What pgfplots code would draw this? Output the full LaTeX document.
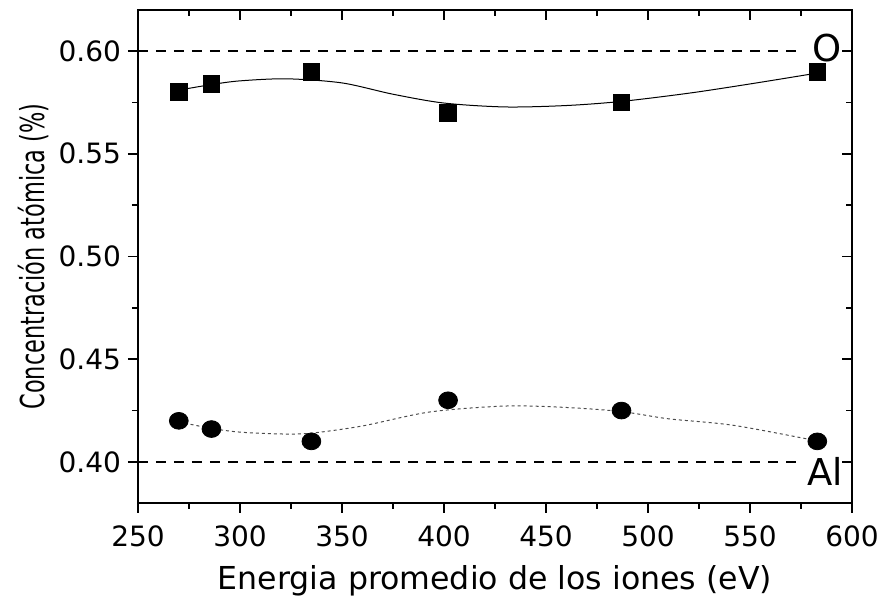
\documentclass[border=0pt]{standalone}
\usepackage{fontspec}
\setmainfont{DejaVu Sans}
\newfontfamily\ylabfont{DejaVu Sans}[FakeStretch=0.68]
\usepackage{pgfplots}
\pgfplotsset{compat=1.18}

\pgfplotsset{
  frame/.style={
    scale only axis, width=357pt, height=246.5pt,
    xmin=250, xmax=600, ymin=0.38, ymax=0.62,
    xtick={250,300,...,600}, ytick={0.40,0.45,0.50,0.55,0.60},
    minor x tick num=1, minor y tick num=1,
    axis line style={line width=1pt},
    tick style={line width=0.9pt, black},
    major tick length=5pt, minor tick length=3pt,
  },
}

\begin{document}
\begin{tikzpicture}
\useasboundingbox (-69pt,-48pt) rectangle (373pt,251.5pt);
\begin{axis}[frame,
  tick align=outside, xtick pos=bottom, ytick pos=left,
  /pgf/number format/assume math mode=true,
  ticklabel style={font=\fontsize{14}{16}\selectfont},
  yticklabel style={/pgf/number format/.cd, fixed, fixed zerofill, precision=2},
  xticklabel style={yshift=-3pt, /pgf/number format/.cd, fixed, precision=0},
  xlabel={Energia promedio de los iones (eV)},
  ylabel={Concentración atómica (\%)},
  xlabel style={font=\fontsize{15.8}{18}\selectfont, at={(axis description cs:0.5,-0.158)}, anchor=center},
  ylabel style={font=\ylabfont\fontsize{16.5}{19}\selectfont, at={(axis description cs:-0.147,0.5)}, anchor=center},
  clip=false,
]
% reference levels
\addplot[black, line width=1pt, dash pattern=on 5pt off 4pt] coordinates {(250,0.60) (576,0.60)};
\addplot[black, line width=1pt, dash pattern=on 5pt off 4pt] coordinates {(250,0.40) (576,0.40)};

% fitted curves
\addplot[black, line width=0.5pt, smooth] coordinates {
  (270,0.5810) (286,0.5837) (300,0.5855) (323,0.5865) (350,0.5845)
  (375,0.5790) (400,0.5747) (430,0.5728) (460,0.5735) (487,0.5755)
  (520,0.5795) (550,0.5840) (583,0.5893)};
\addplot[black!70, line width=0.5pt, smooth, dash pattern=on 1.5pt off 1.5pt] coordinates {
  (270,0.4195) (286,0.4163) (300,0.4145) (320,0.4136) (335,0.4140)
  (360,0.4175) (393,0.4243) (430,0.4272) (460,0.4265) (487,0.4245)
  (510,0.4210) (542,0.4178) (583,0.4102)};

% O
\addplot[only marks, mark=square*, mark size=4.2pt, black] coordinates {
  (270,0.580) (286,0.584) (335,0.590) (402,0.570) (487,0.575) (583,0.590)};
% Al
\addplot[only marks, mark=*, mark size=4.2pt, mark options={xscale=1.12}, black] coordinates {
  (270,0.420) (286,0.416) (335,0.410) (402,0.430) (487,0.425) (583,0.410)};

\node[font=\fontsize{18.5}{21}\selectfont] at (axis cs:588,0.6015) {O};
\node[font=\fontsize{18.5}{21}\selectfont] at (axis cs:587,0.3955) {Al};
\end{axis}
\begin{axis}[frame,
  tick align=inside, xtick pos=top, ytick pos=right,
  xticklabels={}, yticklabels={},
]
\end{axis}
\end{tikzpicture}
\end{document}
